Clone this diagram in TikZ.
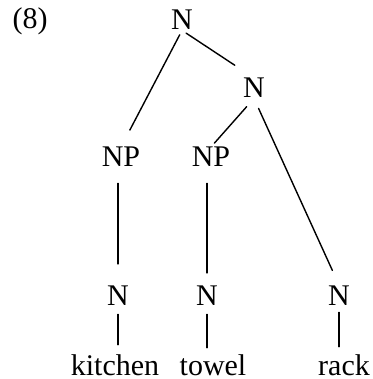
\documentclass[tikz,border=0pt]{standalone}
\usepackage{fontspec}
\setmainfont{Liberation Serif}
\begin{document}
\begin{tikzpicture}[line cap=round,line join=round,x=0.5pt,y=-0.5pt,
  every node/.style={inner sep=0pt,anchor=base,font=\fontsize{15}{18}\selectfont},
  branch/.style={line width=0.7pt,shorten <=2.5pt,shorten >=4pt}]
\useasboundingbox (0,0) rectangle (372,379);
\node (ex) at (30,29) {(8)};
\node (nTop) at (182,30) {N};
\node (nRight) at (254,98) {N};
\node (npLeft) at (121,167) {NP};
\node (npMid) at (211,167) {NP};
\node (nKitchen) at (118,305) {N};
\node (nTowel) at (207,305) {N};
\node (nRack) at (339,305) {N};
\node (wKitchen) at (115,375) {kitchen};
\node (wTowel) at (213,375) {towel};
\node (wRack) at (344,375) {rack};
% branches
\draw [branch,shorten >=9.5pt] (nTop.south) -- (npLeft.north);
\draw [branch,shorten >=11.5pt] (nTop.south) -- (nRight.north);
\draw [branch,shorten <=5.5pt,shorten >=2.5pt] (nRight.south) -- (npMid.north);
\draw [branch,shorten <=5.5pt,shorten >=8pt] (nRight.south) -- (nRack.north);
\draw [branch,shorten <=8pt,shorten >=10.5pt] (nKitchen.north |- npLeft.south) -- (nKitchen.north);
\draw [branch,shorten <=8pt,shorten >=6pt] (nTowel.north |- npMid.south) -- (nTowel.north);
% words
\draw [branch,shorten <=4.5pt,shorten >=4.5pt] (nKitchen.south) -- (nKitchen.south |- wKitchen.north);
\draw [branch,shorten <=4.5pt,shorten >=3pt] (nTowel.south) -- (nTowel.south |- wTowel.north);
\draw [branch,shorten <=3.5pt,shorten >=3.5pt] (nRack.south) -- (nRack.south |- wRack.north);
\end{tikzpicture}
\end{document}
